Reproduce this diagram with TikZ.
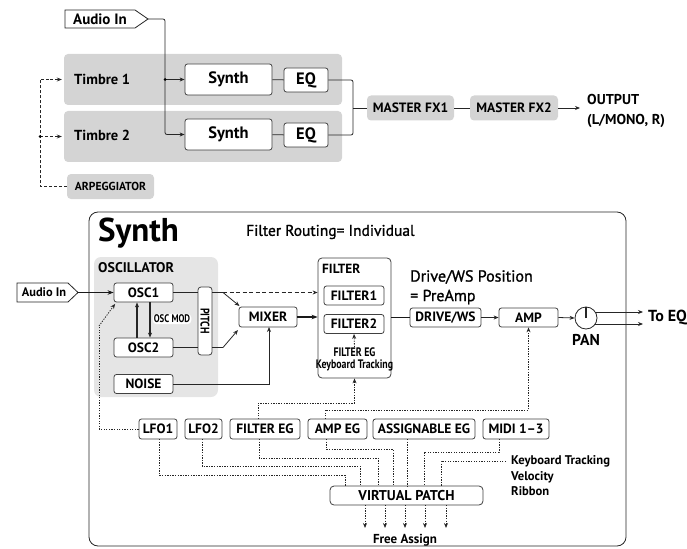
\documentclass[tikz,border=0pt]{standalone}
\usepackage{fontspec}
\setmainfont{PT Sans}
\newfontfamily\condfont[FakeStretch=0.8]{PT Sans}
\newfontfamily\semib[FakeBold=1.2]{PT Sans}
\usetikzlibrary{arrows.meta,calc}
\tikzset{
  wbox/.style={draw=black!75, line width=0.8pt, rounded corners=2.5pt, fill=white, inner sep=0pt, font=\bfseries\fontsize{13.5}{15}\selectfont},
  bigbox/.style={wbox, font=\bfseries\fontsize{16.5}{18}\selectfont},
  gbox/.style={fill=black!17, rounded corners=4pt, inner sep=0pt},
  lbl/.style={inner sep=0pt, font=\bfseries\fontsize{15}{17}\selectfont},
  ln/.style={line width=0.8pt, draw=black!85},
  arr/.style={ln, -{Stealth[length=5pt,width=4pt]}},
  heavy/.style={line width=1.6pt, draw=black!90},
  harr/.style={heavy, -{Stealth[length=6pt,width=4.5pt]}},
  dotl/.style={line width=0.8pt, draw=black!85, dash pattern=on 1.3pt off 1.3pt},
  dotarr/.style={dotl, -{Stealth[length=5pt,width=4pt]}},
  dashl/.style={line width=0.8pt, draw=black!85, dash pattern=on 3pt off 2pt},
  dasharr/.style={dashl, -{Stealth[length=5pt,width=4pt]}},
  jdot/.style={circle, fill=black, inner sep=0pt, minimum size=3pt},
}
\begin{document}
\begin{tikzpicture}[x=1pt,y=-1pt]
\useasboundingbox (0,0) rectangle (687,548);

% ---------------- top section ----------------
\node[gbox, minimum width=278, minimum height=51] (t1) at (203,79.5) {};
\node[gbox, minimum width=278, minimum height=51] (t2) at (203,136.5) {};
\node[lbl, anchor=west, font=\bfseries\fontsize{14.5}{17}\selectfont] (t1l) at (74,79) {Timbre 1};
\node[lbl, anchor=west, font=\bfseries\fontsize{14.5}{17}\selectfont] (t2l) at (74,135) {Timbre 2};

\node[bigbox, minimum width=87, minimum height=31] (syn1) at (228.5,79.5) {Synth};
\node[bigbox, minimum width=87, minimum height=31] (syn2) at (228.5,134.5) {Synth};
\node[bigbox, minimum width=44, minimum height=24] (eq1) at (306,80) {EQ};
\node[bigbox, minimum width=44, minimum height=24] (eq2) at (306,135) {EQ};
\draw[ln] (syn1) -- (eq1);
\draw[ln] (syn2) -- (eq2);

\node[gbox, minimum width=87, minimum height=25, font=\bfseries\fontsize{13.5}{16}\selectfont] (fx1) at (410.5,108) {MASTER FX1};
\node[gbox, minimum width=88, minimum height=25, font=\bfseries\fontsize{13.5}{16}\selectfont] (fx2) at (514,108) {MASTER FX2};
\node[lbl, anchor=west, align=left, font=\bfseries\fontsize{14.3}{20}\selectfont] (out) at (587,111) {OUTPUT\\(L/MONO, R)};

\coordinate (br) at (353,108);
\draw[ln, rounded corners=2pt] (eq1.east) -- (353,80) -- (353,135) -- (eq2.east);
\draw[ln] (br) -- (fx1.west);
\draw[ln] (fx1.east) -- (fx2.west);
\draw[arr] (fx2.east) -- (580,108);

% Audio In tag
\draw[ln, fill=white] (65,10) -- (135,10) -- (148,19) -- (135,28) -- (65,28) -- cycle;
\node[lbl, font=\bfseries\fontsize{15}{16}\selectfont] (ain) at (100,19) {Audio In};
\coordinate (aintip) at (148,19);
\coordinate (ajn) at (165,79.5);
\draw[ln, rounded corners=2pt] (aintip) -- (165,19) -- (165,134.5) -- (174,134.5);
\draw[arr] (174,134.5) -- (syn2.west);
\draw[arr] (ajn) -- (syn1.west);
\node[jdot] at (ajn) {};

% Arpeggiator
\node[gbox, minimum width=87, minimum height=25, font=\bfseries\fontsize{11.6}{14}\selectfont] (arp) at (110.5,186.5) {ARPEGGIATOR};
\coordinate (ajn2) at (40,136.5);
\draw[dashl] (arp.west) -- (40,186.5) -- (40,79.5) -- (50,79.5);
\draw[dasharr] (50,79.5) -- ([xshift=-2pt]t1.west);
\draw[dasharr] (ajn2) -- ([xshift=-2pt]t2.west);
\node[jdot] at (ajn2) {};

% ---------------- Synth section ----------------
\draw[ln, rounded corners=9pt] (89,212) rectangle (626,546);
\node[anchor=west, inner sep=0pt, font=\bfseries\fontsize{33}{35}\selectfont] (stitle) at (98,233) {Synth};
\node[anchor=west, inner sep=0pt, font=\semib\fontsize{15.5}{17}\selectfont] (route) at (246,232) {Filter Routing= Individual};

\fill[black!10, rounded corners=7pt] (94,257) rectangle (218,397);
\node[anchor=west, inner sep=0pt, font=\bfseries\fontsize{14}{15}\selectfont] (oscl) at (98,268) {OSCILLATOR};

\node[wbox, minimum width=59, minimum height=19] (osc1) at (143.5,292.5) {OSC1};
\node[wbox, minimum width=59, minimum height=19] (osc2) at (143.5,347.5) {OSC2};
\node[wbox, minimum width=59, minimum height=19] (noise) at (143.5,384) {NOISE};
\node[wbox, rounded corners=3pt, minimum width=14, minimum height=68] (pitch) at (205,321) {};
\node[rotate=-90, inner sep=0pt, font=\bfseries\condfont\fontsize{12.5}{13}\selectfont] at (pitch.center) {PITCH};
\node[wbox, minimum width=58, minimum height=20] (mixer) at (268,317) {MIXER};

\node[wbox, minimum width=73, minimum height=120, rounded corners=4pt] (filt) at (354.5,318) {};
\node[anchor=west, inner sep=0pt, font=\bfseries\fontsize{13.3}{14}\selectfont] (filtl) at (322,269) {FILTER};
\node[wbox, minimum width=60, minimum height=19] (f1) at (354,295.5) {FILTER1};
\node[wbox, minimum width=60, minimum height=19] (f2) at (354,324) {FILTER2};
\node[align=center, inner sep=0pt, font=\bfseries\condfont\fontsize{12.3}{12}\selectfont] (fegt) at (354.5,359) {FILTER EG\\Keyboard Tracking};

\node[anchor=west, inner sep=0pt, font=\semib\fontsize{16}{18}\selectfont] (dws1) at (410,277) {Drive/WS Position};
\node[anchor=west, inner sep=0pt, font=\semib\fontsize{16}{18}\selectfont] (dws2) at (410,297) {= PreAmp};
\node[wbox, minimum width=71, minimum height=19] (drive) at (445.5,317.5) {DRIVE/WS};
\node[wbox, minimum width=59, minimum height=19] (amp) at (528.5,317.5) {AMP};
\node[circle, draw=black!85, line width=0.8pt, fill=white, minimum size=22pt, inner sep=0pt] (pan) at (586,318) {};
\draw[ln, line width=1.2pt] (pan.center) -- (pan.north);
\node[lbl, font=\bfseries\fontsize{15.7}{17}\selectfont] (panl) at (586,340) {PAN};
\node[lbl, anchor=west, font=\bfseries\fontsize{16}{17}\selectfont] (toeq) at (648,318) {To EQ};

% audio in tag 2
\draw[ln, fill=white] (17,283) -- (68,283) -- (78,292.5) -- (68,302) -- (17,302) -- cycle;
\node[lbl, font=\bfseries\fontsize{12.4}{14}\selectfont] (ain2) at (44,292.5) {Audio In};
\coordinate (ain2tip) at (78,292.5);
\draw[harr] (ain2tip) -- (osc1.west);

% osc connections
\draw[ln, line width=1.4pt, -{Stealth[length=5pt,width=4pt]}] ([xshift=-6.5pt]osc2.north) -- ([xshift=-6.5pt]osc1.south);
\draw[ln, line width=1.4pt, -{Stealth[length=5pt,width=4pt]}] ([xshift=6.5pt]osc1.south) -- ([xshift=6.5pt]osc2.north);
\node[fill=white, rounded corners=4pt, inner sep=1.2pt, font=\bfseries\condfont\fontsize{11}{12}\selectfont] (oscmod) at (172,319) {OSC MOD};

\coordinate (o1j) at (223,292.5);
\coordinate (o2j) at (223,347.5);
\draw[ln] (osc1.east) -- (osc1.east -| pitch.west);
\draw[ln] (osc1.east -| pitch.east) -- (o1j);
\draw[ln] (osc2.east) -- (osc2.east -| pitch.west);
\draw[ln] (osc2.east -| pitch.east) -- (o2j);
\draw[dasharr, dash pattern=on 4pt off 2.5pt] (o1j) -- (o1j -| filt.west);
\draw[arr] (o1j) -- (239.5,306);
\draw[arr] (o2j) -- (238,330);
\draw[arr] (noise.east) -- (269,384) -- (269,327);
\draw[harr] (mixer.east) -- (mixer.east -| filt.west);
\draw[heavy] (filt.east |- drive.west) -- (drive.west);
\draw[arr] (drive.east) -- (amp.west);
\draw[arr] (amp.east) -- (pan.west);
\draw[arr] ($(pan.center)+(9.2,-6)$) -- (643,312);
\draw[arr] ($(pan.center)+(9.2,6)$) -- (643,324);
\draw[dotarr] (fegt.north) -- (f2.south);

% lower boxes
\node[wbox, minimum width=38, minimum height=20] (lfo1) at (158,429) {LFO1};
\node[wbox, minimum width=37, minimum height=20] (lfo2) at (203.5,429) {LFO2};
\node[wbox, minimum width=70, minimum height=20] (feg) at (265,429) {FILTER EG};
\node[wbox, minimum width=59, minimum height=20] (ampeg) at (337.5,429) {AMP EG};
\node[wbox, minimum width=102, minimum height=20] (aeg) at (424,429) {ASSIGNABLE EG};
\node[wbox, minimum width=66, minimum height=20] (midi) at (516,429) {MIDI 1--3};
\node[wbox, minimum width=153, minimum height=19, rounded corners=4pt, font=\bfseries\fontsize{14.2}{15}\selectfont] (vp) at (406.5,495.5) {VIRTUAL PATCH};

\draw[dotl] (lfo1.west) -- (99,429) -- (99,326);
\draw[dotarr] (99,326) -- ([shift={(1.5,1.5)}]osc1.south west);
\draw[dotarr] (258,419) -- (258,403) -- (354.5,403) -- (filt.south);
\draw[dotarr] (325,419) -- (325,410) -- (528.5,410) -- (amp.south);

\draw[dotl] (159,439) -- (159,475) -- (345,475) -- (345,486);
\draw[dotl] (202,439) -- (202,466) -- (360,466) -- (360,486);
\draw[dotl] (259,439) -- (259,458) -- (378,458) -- (378,486);
\draw[dotl] (326,439) -- (326,449) -- (393,449) -- (393,486);
\draw[dotl] (407,439) -- (407,486);
\draw[dotl] (499,439) -- (499,452) -- (424,452) -- (424,486);
\node[anchor=west, align=left, inner sep=0pt, font=\bfseries\fontsize{12.6}{15.5}\selectfont] (kbd) at (511,476) {Keyboard Tracking\\Velocity\\Ribbon};
\draw[dotl] (506,461) -- (441,461) -- (441,486);

\foreach \xx in {365,385,405,425,446}{
  \draw[dotarr] (\xx,505) -- (\xx,528);
}
\node[inner sep=0pt, font=\bfseries\fontsize{13}{14}\selectfont] (free) at (405,540) {Free Assign};
\end{tikzpicture}
\end{document}
